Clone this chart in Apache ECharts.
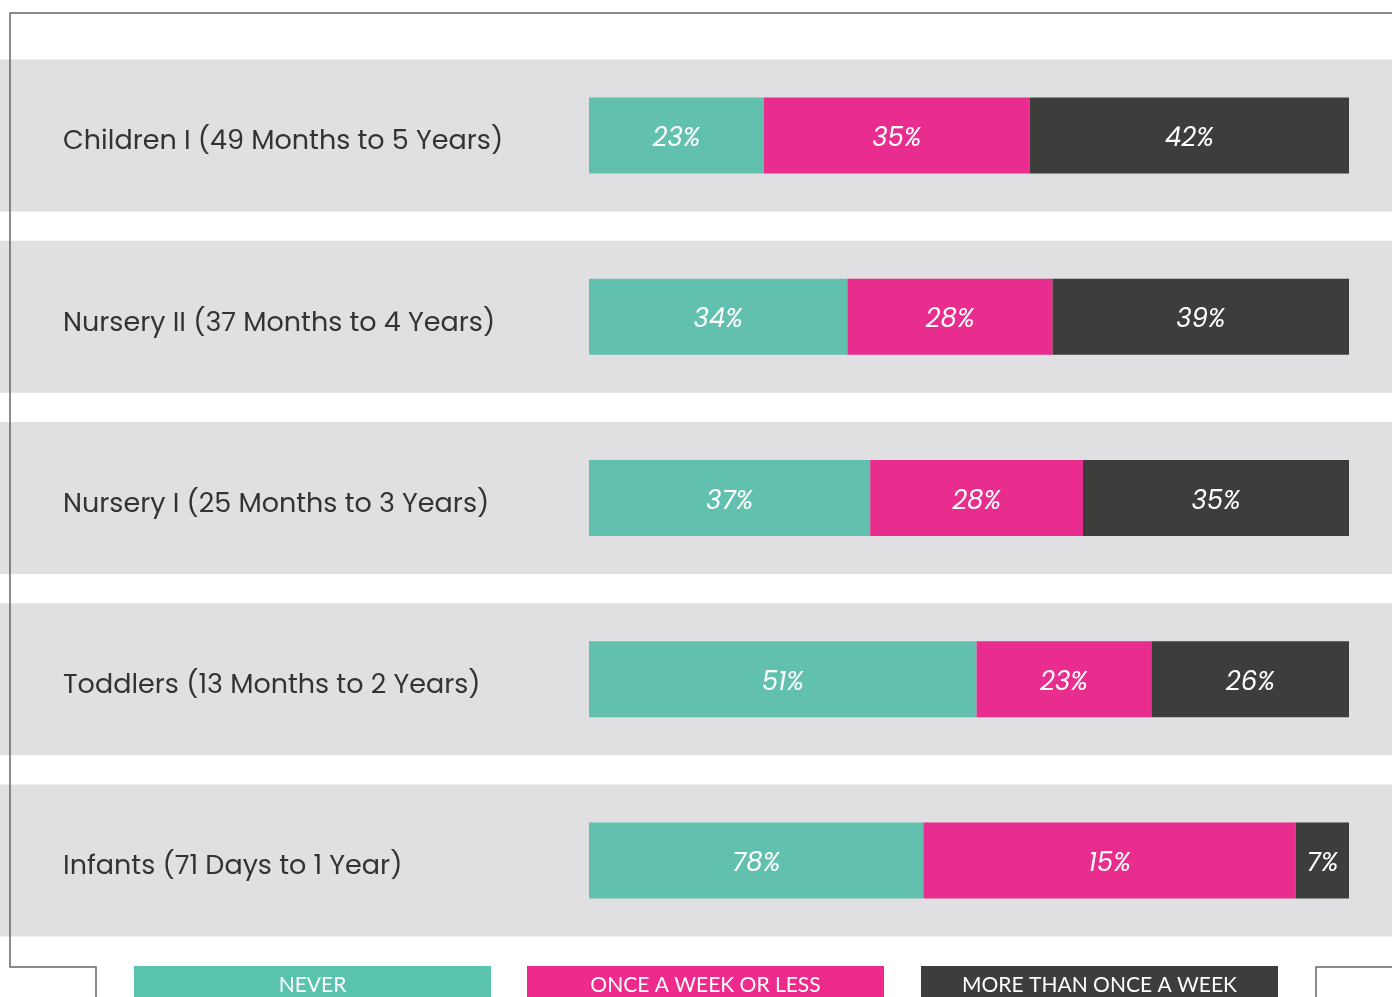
<!DOCTYPE html>
<html>
<head>
<meta charset="utf-8">
<script src="https://cdn.jsdelivr.net/npm/echarts@6/dist/echarts.min.js"></script>
<style>
  html, body { margin: 0; padding: 0; background: #fff; }
  #chart { width: 1392px; height: 997px; }
</style>
</head>
<body>
<div id="chart"></div>
<script>
// rows, top to bottom
const categories = [
  'Children I (49 Months to 5 Years)',
  'Nursery II (37 Months to 4 Years)',
  'Nursery I (25 Months to 3 Years)',
  'Toddlers (13 Months to 2 Years)',
  'Infants (71 Days to 1 Year)'
];
const seriesNames = ['NEVER', 'ONCE A WEEK OR LESS', 'MORE THAN ONCE A WEEK'];
// segment widths as drawn (share of bar)
const neverValues = [23, 34, 37, 51, 44];
const onceValues = [35, 27, 28, 23, 49];
const moreValues = [42, 39, 35, 26, 7];
// printed labels
const neverLabels = ['23%', '34%', '37%', '51%', '78%'];
const onceLabels = ['35%', '28%', '28%', '23%', '15%'];
const moreLabels = ['42%', '39%', '35%', '26%', '7%'];
const bandValues = [1, 1, 1, 1, 1];

const barColors = ['#62c1ae', '#e82d8e', '#3d3d3b'];
const legendColors = ['#5ac3ae', '#ee2a8c', '#3d3d3b'];

let myChart = echarts.init(document.getElementById('chart'));

const gridTop = 45;
const gridHeight = 906;

function stackSeries(name, values, labels, color) {
  return {
    name: name,
    type: 'bar',
    stack: 'total',
    xAxisIndex: 1,
    yAxisIndex: 1,
    barWidth: 76,
    silent: true,
    itemStyle: { color: color },
    label: {
      show: true,
      position: 'inside',
      offset: [0, 4],
      formatter: p => labels[p.dataIndex],
      color: '#fff',
      fontSize: 26,
      fontStyle: 'italic',
      fontFamily: 'Poppins, Lato, sans-serif'
    },
    data: values
  };
}

// legend boxes at the bottom
const legendLeft = [134, 527, 921];
const legendGraphics = [];
seriesNames.forEach((n, i) => {
  legendGraphics.push({
    type: 'rect',
    shape: { x: legendLeft[i], y: 966, width: 357, height: 40 },
    style: { fill: legendColors[i] }
  });
  legendGraphics.push({
    type: 'text',
    x: legendLeft[i] + 178.5,
    y: 985,
    style: {
      text: n, fill: '#fff', fontSize: 21,
      fontFamily: 'Lato, sans-serif',
      align: 'center', verticalAlign: 'middle'
    }
  });
});

myChart.setOption({
  animation: false,
  grid: [
    { left: 0, right: 0, top: gridTop, height: gridHeight },
    { left: 589, width: 760, top: gridTop, height: gridHeight }
  ],
  xAxis: [
    { gridIndex: 0, type: 'value', min: 0, max: 1, show: false },
    { gridIndex: 1, type: 'value', min: 0, max: 100, show: false }
  ],
  yAxis: [
    { gridIndex: 0, type: 'category', inverse: true, data: categories, show: false },
    {
      gridIndex: 1, type: 'category', inverse: true, data: categories, z: 10,
      axisLine: { show: false }, axisTick: { show: false },
      axisLabel: {
        margin: 526, align: 'left',
        formatter: v => '{t|' + v + '}',
        rich: {
          t: {
            padding: [14, 0, 0, 0],
            color: '#333', fontSize: 27,
            fontFamily: 'Poppins, Lato, sans-serif'
          }
        }
      }
    }
  ],
  series: [
    {
      type: 'bar', xAxisIndex: 0, yAxisIndex: 0,
      barWidth: 152, silent: true, z: 0,
      itemStyle: { color: '#e0dfe1' },
      data: bandValues
    },
    stackSeries(seriesNames[0], neverValues, neverLabels, barColors[0]),
    stackSeries(seriesNames[1], onceValues, onceLabels, barColors[1]),
    stackSeries(seriesNames[2], moreValues, moreLabels, barColors[2])
  ],
  graphic: [
    {
      type: 'polyline', z: 100,
      shape: { points: [[1392, 13], [10, 13], [10, 967], [96, 967], [96, 997]] },
      style: { stroke: '#666', lineWidth: 1.5, fill: null }
    },
    {
      type: 'polyline', z: 100,
      shape: { points: [[1316, 997], [1316, 967], [1392, 967]] },
      style: { stroke: '#666', lineWidth: 1.5, fill: null }
    }
  ].concat(legendGraphics)
});
</script>
</body>
</html>
